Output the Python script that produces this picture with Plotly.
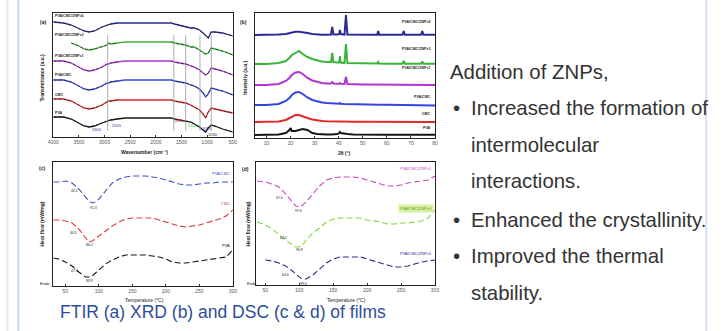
import plotly.graph_objects as go

W, H = 723, 331

# ---------------- (a) FTIR ----------------
WAVENUMBER = [4000, 3800, 3650, 3500, 3400, 3300, 3200, 3050, 2950, 2920, 2880, 2750, 2600,
              1800, 1700, 1640, 1550, 1420, 1320, 1250, 1150, 1080, 1030, 980, 920, 850, 700, 500]
FTIR_ZNP5 = [115, 114, 112, 108, 106, 105, 106, 110, 112, 112, 113, 114, 114,
             114, 114, 113, 112, 110, 109, 109, 107, 104, 101, 99, 105, 105, 104, 101]
FTIR_ZNP3 = [None, None, 94, 91, 88, 87, 88, 90, 92, 94, 93, 94, 95,
             95, 95, 94, 93, 92, 90, 90, 87, 85, 83, 84, 89, 88, 86, 82]
FTIR_ZNP1 = [76, 76, 74, 70, 67, 66, 67, 70, 73, 73, 74, 75, 76,
             76, 76, 75, 74, 73, 71, 70, 67, 64, 62, 64, 69, 68, 66, 62]
FTIR_PVACMC = [57, 57, 55, 51, 48, 47, 48, 51, 54, 54, 55, 56, 57,
               57, 57, 56, 55, 54, 52, 51, 48, 44, 40, 43, 49, 48, 46, 42]
FTIR_CMC = [38, 38, 36, 32, 29, 28, 29, 32, 35, 36, 36, 37, 37,
            37, 37, 36, 35, 34, 32, 30, 27, 23, 19, 25, 29, 28, 26, 24]
FTIR_PVA = [20, 20, 18, 14, 11, 10, 11, 14, 16, 16, 17, 18, 19,
            19, 19, 18, 17, 16, 15, 13, 10, 7, 5, 9, 12, 11, 8, 5]
FTIR_BANDS = [2940, 1650, 1420, 1140, 920]
FTIR_TICKS = [4000, 3500, 3000, 2500, 2000, 1500, 1000, 500]

# ---------------- (b) XRD ----------------
TWO_THETA = [5, 10, 15, 18, 19.5, 20, 20.5, 22, 23.5, 25, 27, 29, 31, 33, 35, 36.8, 37.3, 37.8,
             39.5, 40.2, 40.5, 40.8, 42.4, 43, 43.6, 46, 50, 52, 56, 56.4, 56.8, 60, 66.5, 67,
             67.5, 71, 74.2, 74.7, 75.2, 78, 80]
XRD_ZNP5 = [0, 0, 0.5, 1, 2, 2.5, 2.8, 3.3, 3.3, 3, 2, 1, 0.5, 0.3, 0.3, 0.5, 8, 0.5,
            0.5, 1, 5, 1, 0.5, 20, 0.5, 0.2, 0.2, 0.2, 0.3, 4, 0.3, 0.2, 0.2, 4,
            0.2, 0.2, 0.2, 4, 0.2, 0.2, 0.2]
XRD_ZNP3 = [0, 0, 1, 3, 6, 8, 9, 11, 13, 10, 7, 5, 3.5, 2.5, 2, 2, 11, 2,
            1.5, 1.5, 8, 1.5, 1, 20, 1, 0.8, 0.5, 0.5, 0.4, 2, 0.4, 0.3, 0.3, 3,
            0.3, 0.3, 0.3, 2.5, 0.3, 0.2, 0.2]
XRD_ZNP1 = [0, 0, 1, 4, 7, 9, 10, 12.5, 13, 11, 7, 4.5, 3, 2, 1.5, 1.5, 3, 1.5,
            1.2, 1.2, 2, 1.2, 1, 8, 1, 0.6, 0.4, 0.4, 0.3, 0.3, 0.3, 0.2, 0.2, 0.2,
            0.2, 0.2, 0.2, 0.2, 0.2, 0.1, 0]
XRD_PVACMC = [0, 0, 1, 4, 7, 9, 10, 12.5, 13, 11, 7.5, 5, 3.5, 2.5, 2, 1.5, 1.5, 1.5,
              1.2, 1.2, 2, 1.2, 1, 1, 1, 0.7, 0.5, 0.5, 0.3, 0.3, 0.3, 0.2, 0.2, 0.2,
              0.2, 0.1, 0, 0, 0, -0.5, -0.5]
XRD_CMC = [0, 0, 0.5, 2, 4, 5, 5.5, 7, 7, 6, 4, 2.5, 1.5, 1, 0.8, 0.6, 0.6, 0.6,
           0.5, 0.5, 0.5, 0.5, 0.4, 0.4, 0.4, 0.3, 0.3, 0.3, 0.2, 0.2, 0.2, 0.2, 0.1, 0.1,
           0.1, 0.1, 0, 0, 0, 0, 0]
XRD_PVA = [0, 0, 0.5, 2, 5, 7, 4, 4, 5, 6, 5, 2, 1, 0.5, 0.5, 0.5, 0.5, 0.5,
           1, 2, 3, 2, 1, 1, 1, 0.5, 0.3, 0.3, 0.3, 0.3, 0.3, 0.3, 0.3, 0.3,
           0.3, 0.3, 0.3, 0.3, 0.3, 0.3, 0.3]
XRD_TICKS = [10, 20, 30, 40, 50, 60, 70, 80]

# ---------------- (c) DSC ----------------
TEMP_C = [32, 40, 50, 60, 70, 80, 85, 90, 95, 100, 110, 120, 130, 140, 150, 160, 170, 180,
          190, 200, 210, 220, 230, 240, 250, 260, 270, 280, 290, 300]
DSC_PVACMC = [104, 104, 105, 103, 97, 89, 85, 83, 84, 87, 95, 103, 107, 109, 110, 110, 110, 109,
              108, 106, 104, 102, 101, 101, 102, 103, 103, 104, 104, 104]
DSC_CMC = [66, 66, 65, 63, 57, 48, 44, 45, 48, 50, 55, 60, 64, 67, 68, 68, 68, 68,
           66, 64, 62, 60, 59, 60, 61, 63, 65, 67, 70, 76]
DSC_PVA = [28, 27, 24, 20, 14, 9, 9, 10, 13, 16, 22, 26, 29, 31, 31, 31, 31, 30,
           29, 27, 24, 23, 23, 24, 25, 26, 27, 28, 29, 36]

# ---------------- (d) DSC ----------------
TEMP_D = [38, 50, 60, 70, 80, 90, 95, 100, 105, 110, 120, 130, 140, 150, 160, 170, 180, 190,
          200, 210, 220, 230, 240, 250, 260, 270, 280, 290, 300]
DSC_ZNP5 = [104, 103, 101, 98, 91, 83, 79, 78, 80, 83, 91, 99, 105, 107, 108, 108, 108, 107,
            105, 103, 101, 99, 99, 100, 102, 103, 104, 105, 109]
DSC_ZNP3 = [63, 60, 56, 50, 45, 40, 38, 38, 40, 45, 52, 57, 63, 66, 67, 67, 67, 67,
            65, 64, 63, 61, 61, 62, 62, 63, 64, 67, 75]
DSC_ZNP1 = [None, 25, 24, 22, 19, 14, 11, 8, 6, 6, 10, 16, 22, 26, 28, 28, 28, 28,
            26, 24, 22, 20, 18, 18, 19, 21, 23, 24, 25]
TEMP_TICKS = [50, 100, 150, 200, 250, 300]

NAMES = ["PVA/CMC/ZNPs5", "PVA/CMC/ZNPs3", "PVA/CMC/ZNPs1", "PVA/CMC", "CMC", "PVA"]
COLORS = ["#2a2a90", "#3cb43c", "#b035d0", "#3246e0", "#e02828", "#151515"]

FONT = "Liberation Sans, Arial, sans-serif"


def px(x):
    return x / W


def py(y):
    return 1 - y / H


fig = go.Figure()

# ---- FTIR traces
ftir_series = [FTIR_ZNP5, FTIR_ZNP3, FTIR_ZNP1, FTIR_PVACMC, FTIR_CMC, FTIR_PVA]
split = WAVENUMBER.index(2600)
for vals, col in zip(ftir_series, COLORS):
    fig.add_trace(go.Scatter(x=WAVENUMBER, y=vals, mode="lines", xaxis="x", yaxis="y",
                             line=dict(color=col, width=1.3), showlegend=False))
    ox = WAVENUMBER[:split] + [None] + WAVENUMBER[split + 2:]
    oy = vals[:split] + [None] + vals[split + 2:]
    fig.add_trace(go.Scatter(x=ox, y=oy, mode="lines", xaxis="x", yaxis="y",
                             line=dict(color="#222", width=1, dash="3px,2px"),
                             opacity=0.7, showlegend=False))

# ---- XRD traces
xrd_series = [XRD_ZNP5, XRD_ZNP3, XRD_ZNP1, XRD_PVACMC, XRD_CMC, XRD_PVA]
xrd_offsets = [103, 74, 53, 33, 16, 3]
for vals, off, col in zip(xrd_series, xrd_offsets, COLORS):
    fig.add_trace(go.Scatter(x=TWO_THETA, y=[v + off for v in vals], mode="lines",
                             xaxis="x2", yaxis="y2", line=dict(color=col, width=2),
                             showlegend=False))

# ---- DSC (c)
c_cols = ["#4050c8", "#e03838", "#151515"]
for vals, col in zip([DSC_PVACMC, DSC_CMC, DSC_PVA], c_cols):
    fig.add_trace(go.Scatter(x=TEMP_C, y=vals, mode="lines", xaxis="x3", yaxis="y3",
                             line=dict(color=col, width=1.1, dash="6px,3px"), showlegend=False))

# ---- DSC (d)
d_cols = ["#c848c8", "#7ed840", "#2a2a90"]
for vals, col in zip([DSC_ZNP5, DSC_ZNP3, DSC_ZNP1], d_cols):
    fig.add_trace(go.Scatter(x=TEMP_D, y=vals, mode="lines", xaxis="x4", yaxis="y4",
                             line=dict(color=col, width=1.1, dash="6px,3px"), showlegend=False))

frame = dict(showline=True, mirror=True, linecolor="#222", linewidth=1, showgrid=False,
             zeroline=False, ticks="inside", ticklen=2, tickcolor="#333",
             tickfont=dict(size=5, color="#555", family=FONT))
noy = dict(showline=True, mirror=True, linecolor="#222", linewidth=1, showgrid=False,
           zeroline=False, showticklabels=False, ticks="")

fig.update_layout(
    width=W, height=H, margin=dict(l=0, r=0, t=0, b=0),
    paper_bgcolor="white", plot_bgcolor="white", font=dict(family=FONT),
    xaxis=dict(domain=[px(48), px(230)], range=[4000, 500], tickvals=FTIR_TICKS, anchor="y", **frame),
    yaxis=dict(domain=[py(137), py(13)], range=[0, 124], anchor="x", **noy),
    xaxis2=dict(domain=[px(252), px(435)], range=[5, 80], tickvals=XRD_TICKS, anchor="y2", **frame),
    yaxis2=dict(domain=[py(138), py(13)], range=[0, 125], anchor="x2", **noy),
    xaxis3=dict(domain=[px(48), px(230)], range=[32, 300], tickvals=TEMP_TICKS, anchor="y3", **frame),
    yaxis3=dict(domain=[py(286), py(162)], range=[0, 124], anchor="x3", **noy),
    xaxis4=dict(domain=[px(254), px(435)], range=[37, 300], tickvals=TEMP_TICKS, anchor="y4", **frame),
    yaxis4=dict(domain=[py(285), py(162)], range=[0, 123], anchor="x4", **noy),
)

shapes = []
for b in FTIR_BANDS:
    shapes.append(dict(type="line", xref="x", yref="y domain", x0=b, x1=b, y0=0.05, y1=0.82,
                       line=dict(color="#999", width=0.8)))
# slide borders
shapes.append(dict(type="line", xref="paper", yref="paper", x0=px(1.5), x1=px(1.5), y0=0, y1=1,
                   line=dict(color="#e2e6ea", width=2)))
shapes.append(dict(type="line", xref="paper", yref="paper", x0=px(12.5), x1=px(12.5), y0=0, y1=1,
                   line=dict(color="#c9d9ea", width=2)))
shapes.append(dict(type="line", xref="paper", yref="paper", x0=px(710), x1=px(710), y0=0, y1=1,
                   line=dict(color="#d6e4f2", width=2)))
fig.update_layout(shapes=shapes)

ann = []


def text(x, y, s, size=5, color="#222", anchor="left", bold=False, angle=0, bg=None):
    d = dict(x=px(x), y=py(y), xref="paper", yref="paper", text=("<b>%s</b>" % s) if bold else s,
             showarrow=False, xanchor=anchor, yanchor="middle", textangle=angle,
             font=dict(size=size, color=color, family=FONT))
    if bg:
        d["bgcolor"] = bg
    ann.append(d)


# panel letters and axis titles
text(38, 22, "(a)", 5, bold=True, anchor="center")
text(241, 22, "(b)", 5, bold=True, anchor="center")
text(37, 168, "(c)", 5, bold=True, anchor="center")
text(243, 169, "(d)", 5, bold=True, anchor="center")
text(36, 78, "Transmittance (a.u.)", 5, angle=-90, anchor="center", bold=True)
text(242, 78, "Intensity (a.u.)", 5, angle=-90, anchor="center", bold=True)
text(36, 224, "Heat flow (mW/mg)", 5, angle=-90, anchor="center", bold=True)
text(245, 224, "Heat flow (mW/mg)", 5, angle=-90, anchor="center", bold=True)
text(140, 152, "Wavenumber (cm⁻¹)", 5, anchor="center", bold=True)
text(343, 153, "2θ (°)", 5, anchor="center", bold=True)
text(140, 300, "Temperature (°C)", 5, anchor="center")
text(345, 300, "Temperature (°C)", 5, anchor="center")
text(40, 283, "Endo", 4, anchor="center")
text(249, 283, "Endo", 4, anchor="center")

# FTIR labels
for y, n in zip([16, 35, 56, 75, 95, 113], NAMES):
    text(48, y, n, 3.6, bold=True)
# FTIR peak labels
text(85, 129, "3300", 4, color="#2a2a90")
text(105, 125, "2920", 4, color="#2a2a90")
text(168, 121, "1650", 4, color="#e02828")
text(183, 125, "1420", 4, color="#3cb43c")
text(197, 128, "1090", 4, color="#2a2a90")
text(203, 134, "1030", 4, color="#222")

# XRD labels
for y, n in zip([22, 49, 68, 97, 114, 128], NAMES):
    text(433, y, n, 3.6, anchor="right", bold=True)

# DSC (c) labels
text(229, 173, "PVA/CMC", 4, color="#4050c8", anchor="right")
text(229, 203, "CMC", 4, color="#e03838", anchor="right")
text(229, 245, "PVA", 4, color="#151515", anchor="right")
text(64, 191, "42.1", 3.5)
text(89, 208, "91.3", 3.5, anchor="center")
text(63, 233, "40.5", 3.5)
text(85, 245, "86.2", 3.5, anchor="center")
text(64, 271, "47.5", 3.5)
text(85, 281, "83.9", 3.5, anchor="center")

# DSC (d) labels
text(434, 168, "PVA/CMC/ZNPs5", 4, color="#c848c8", anchor="right")
text(434, 208, "PVA/CMC/ZNPs3", 4, color="#55a020", anchor="right", bg="#d8f0a0")
text(434, 253, "PVA/CMC/ZNPs1", 4, color="#2a2a90", anchor="right")
text(277, 198, "67.0", 3.5, anchor="center")
text(297, 211, "97.6", 3.5, anchor="center")
text(281, 238, "64.5", 3.5, anchor="center")
text(298, 250, "96.9", 3.5, anchor="center")
text(283, 275, "64.6", 3.5, anchor="center")
text(302, 284, "99.4", 3.5, anchor="center")

# caption
text(220, 312, "FTIR (a) XRD (b) and DSC (c &amp; d) of films", 17.5, color="#2e4d9c", anchor="center")

# right-side text
RIGHT = "#333333"
FS = 20.4
text(448, 72, "Addition of ZNPs,", FS, color=RIGHT)
for y in [108, 220, 256]:
    text(451, y, "•", FS, color=RIGHT)
text(470, 108, "Increased the formation of", FS, color=RIGHT)
text(470, 145, "intermolecular", FS, color=RIGHT)
text(470, 181, "interactions.", FS, color=RIGHT)
text(470, 220, "Enhanced the crystallinity.", FS, color=RIGHT)
text(470, 256, "Improved the thermal", FS, color=RIGHT)
text(470, 293, "stability.", FS, color=RIGHT)

fig.update_layout(annotations=ann)
fig.write_html("out.html", config={"displayModeBar": False},
               post_script="document.body.style.margin='0';document.body.style.overflow='hidden';")
